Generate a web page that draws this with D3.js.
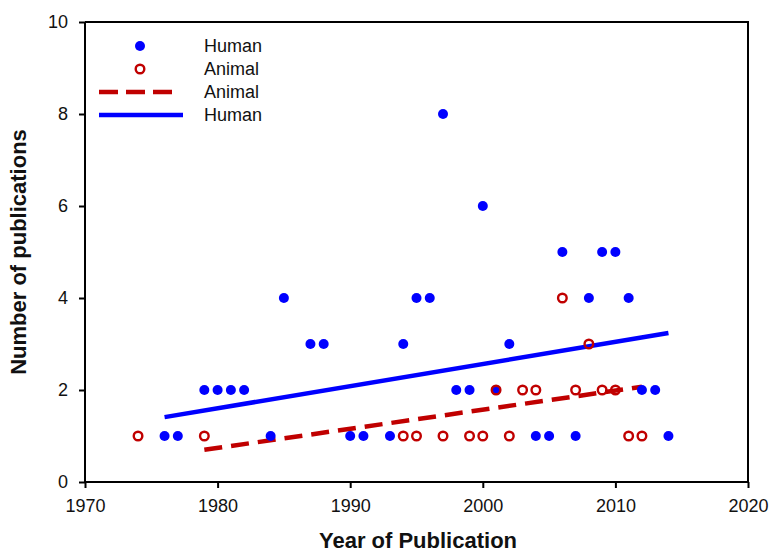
<!DOCTYPE html>
<html>
<head>
<meta charset="utf-8">
<script src="https://cdn.jsdelivr.net/npm/d3@7"></script>
<style>
  html, body { margin: 0; padding: 0; background: #fff; }
  svg { display: block; font-family: "Liberation Sans", Arial, sans-serif; }
</style>
</head>
<body>
<svg id="chart" width="769" height="556"></svg>
<script>
// ---- data ----
const humanYears  = [1976,1977,1979,1980,1981,1982,1984,1985,1987,1988,1990,1991,1993,1994,1995,1996,1997,1998,1999,2000,2001,2002,2004,2005,2006,2007,2008,2009,2010,2011,2012,2013,2014];
const humanCounts = [1,1,2,2,2,2,1,4,3,3,1,1,1,3,4,4,8,2,2,6,2,3,1,1,5,1,4,5,5,4,2,2,1];
const animalYears  = [1974,1979,1994,1995,1997,1999,2000,2001,2002,2003,2004,2006,2007,2008,2009,2010,2011,2012];
const animalCounts = [1,1,1,1,1,1,1,2,1,2,2,4,2,3,2,2,1,1];
// fitted trend lines (endpoints)
const humanFitYears = [1976, 2014];
const humanFitValues = [1.41, 3.24];
const animalFitYears = [1979, 2012];
const animalFitValues = [0.70, 2.07];
const xTicks = [1970,1980,1990,2000,2010,2020];
const yTicks = [0,2,4,6,8,10];
const legendLabels = ["Human","Animal","Animal","Human"];

const BLUE = "#0000ff", RED = "#c00000";

const svg = d3.select("#chart");
const x = d3.scaleLinear().domain([1970,2020]).range([85,748]);
const y = d3.scaleLinear().domain([0,10]).range([482,22]);

// frame (top & right)
svg.append("path")
  .attr("d", `M${x(1970)},${y(10)}H${x(2020)}V${y(0)}`)
  .attr("fill","none").attr("stroke","#000").attr("stroke-width",2);

// axes
const xAxis = svg.append("g").attr("transform",`translate(0,${y(0)})`)
  .call(d3.axisBottom(x).tickValues(xTicks).tickFormat(d3.format("d")).tickSize(6).tickPadding(11).tickSizeOuter(0));
const yAxis = svg.append("g").attr("transform",`translate(${x(1970)},0)`)
  .call(d3.axisLeft(y).tickValues(yTicks).tickSize(6).tickPadding(11).tickSizeOuter(0));
[xAxis,yAxis].forEach(g=>{
  g.select(".domain").attr("stroke","#000").attr("stroke-width",2);
  g.selectAll(".tick line").attr("stroke","#000").attr("stroke-width",2);
  g.selectAll(".tick text").attr("fill","#111").style("font-size","18px").style("font-family","'Liberation Sans', Arial, sans-serif");
});
xAxis.select(".domain").attr("d",`M${x(1970)},0H${x(2020)}`);
yAxis.select(".domain").attr("d",`M0,${y(0)}V${y(10)}`);

// axis titles
svg.append("text").attr("x",418).attr("y",548).attr("text-anchor","middle")
  .style("font-size","22px").style("font-weight","bold").attr("fill","#111")
  .text("Year of Publication");
svg.append("text").attr("transform","translate(26,252) rotate(-90)").attr("text-anchor","middle")
  .style("font-size","22px").style("font-weight","bold").attr("fill","#111")
  .text("Number of publications");

// trend lines
const line = d3.line().x(d=>x(d[0])).y(d=>y(d[1]));
svg.append("path").datum(humanFitYears.map((v,i)=>[v,humanFitValues[i]]))
  .attr("d",line).attr("stroke",BLUE).attr("stroke-width",4.5).attr("fill","none");
svg.append("path").datum(animalFitYears.map((v,i)=>[v,animalFitValues[i]]))
  .attr("d",line).attr("stroke",RED).attr("stroke-width",4.5).attr("fill","none")
  .attr("stroke-dasharray","18,9");

// points
svg.append("g").selectAll("circle").data(humanYears.map((v,i)=>[v,humanCounts[i]]))
  .join("circle").attr("cx",d=>x(d[0])).attr("cy",d=>y(d[1])).attr("r",5).attr("fill",BLUE);
svg.append("g").selectAll("circle").data(animalYears.map((v,i)=>[v,animalCounts[i]]))
  .join("circle").attr("cx",d=>x(d[0])).attr("cy",d=>y(d[1])).attr("r",4.3)
  .attr("fill","none").attr("stroke",RED).attr("stroke-width",2.4);

// legend
const lg = svg.append("g");
const rows = [46, 69, 92, 115];
lg.append("circle").attr("cx",140).attr("cy",rows[0]).attr("r",5).attr("fill",BLUE);
lg.append("circle").attr("cx",140).attr("cy",rows[1]).attr("r",4.3).attr("fill","none").attr("stroke",RED).attr("stroke-width",2.4);
lg.append("line").attr("x1",99).attr("x2",176).attr("y1",rows[2]).attr("y2",rows[2])
  .attr("stroke",RED).attr("stroke-width",4.5).attr("stroke-dasharray","19,8");
lg.append("line").attr("x1",99).attr("x2",183).attr("y1",rows[3]).attr("y2",rows[3])
  .attr("stroke",BLUE).attr("stroke-width",4.5);
lg.selectAll("text.lab").data(legendLabels).join("text").attr("class","lab")
  .attr("x",204).attr("y",(d,i)=>rows[i]).attr("dy","0.35em")
  .style("font-size","18px").attr("fill","#111").text(d=>d);
</script>
</body>
</html>
